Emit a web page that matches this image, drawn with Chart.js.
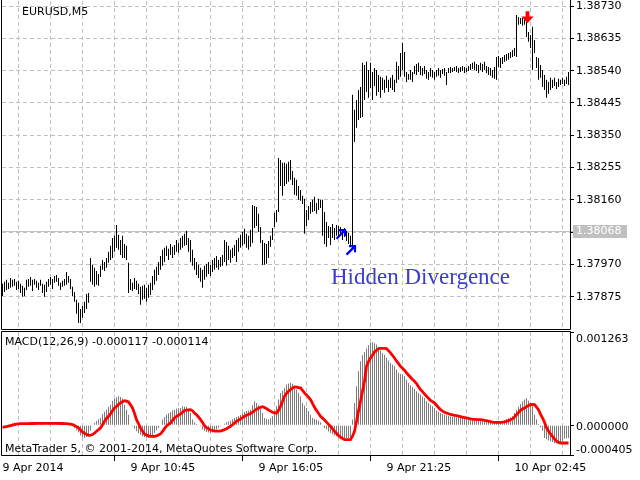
<!DOCTYPE html>
<html><head><meta charset="utf-8">
<script src="https://cdn.jsdelivr.net/npm/chart.js@4.4.1/dist/chart.umd.min.js"></script>
<style>
html,body{margin:0;padding:0;background:#fff;overflow:hidden;}
#wrap{position:relative;width:640px;height:480px;background:#fff;}
#c1{position:absolute;left:0;top:0;}
#c2{position:absolute;left:0;top:330px;}
</style></head><body>
<div id="wrap"><canvas id="c1" width="640" height="330"></canvas><canvas id="c2" width="640" height="150"></canvas></div>
<script>
// ---------- DATA ----------
const symbolTitle = 'EURUSD,M5';
const macdTitle = 'MACD(12,26,9) -0.000117 -0.000114';
const footerText = 'MetaTrader 5, \u00a9 2001-2014, MetaQuotes Software Corp.';
const currentPrice = 1.38068;

const highs = [
1.37913,1.37919,1.37925,1.37916,1.37930,1.37925,1.37927,1.37919,1.37922,1.37913,
1.37907,1.37901,1.37925,1.37927,1.37933,1.37925,1.37927,1.37922,1.37916,1.37925,
1.37913,1.37910,1.37919,1.37927,1.37933,1.37927,1.37936,1.37939,1.37930,1.37916,
1.37922,1.37927,1.37948,1.37936,1.37927,1.37904,1.37889,1.37866,1.37857,1.37839,
1.37848,1.37860,1.37883,1.37886,1.37989,1.37969,1.37960,1.37951,1.37942,1.37966,
1.37983,1.37977,1.37989,1.38007,1.38025,1.38048,1.38054,1.38086,1.38057,1.38042,
1.38054,1.38030,1.38025,1.37975,1.37927,1.37916,1.37930,1.37922,1.37913,1.37904,
1.37907,1.37910,1.37901,1.37910,1.37916,1.37936,1.37954,1.37963,1.37977,1.37995,
1.38013,1.38019,1.38025,1.38016,1.38030,1.38022,1.38027,1.38042,1.38033,1.38048,
1.38054,1.38060,1.38069,1.38048,1.38042,1.38013,1.37989,1.37977,1.37969,1.37960,
1.37954,1.37966,1.37972,1.37977,1.37969,1.37983,1.37989,1.37995,1.37983,1.37992,
1.37998,1.38042,1.38036,1.38025,1.38013,1.38019,1.38027,1.38042,1.38048,1.38057,
1.38066,1.38075,1.38060,1.38054,1.38072,1.38145,1.38142,1.38139,1.38119,1.38080,
1.38042,1.38033,1.38030,1.38039,1.38054,1.38077,1.38122,1.38130,1.38283,1.38277,
1.38269,1.38269,1.38266,1.38272,1.38277,1.38245,1.38225,1.38219,1.38201,1.38189,
1.38172,1.38163,1.38130,1.38142,1.38154,1.38160,1.38169,1.38151,1.38163,1.38160,
1.38160,1.38124,1.38095,1.38083,1.38080,1.38089,1.38077,1.38086,1.38083,1.38080,
1.38072,1.38077,1.38069,1.38063,1.38054,1.38469,1.38425,1.38454,1.38483,1.38492,
1.38563,1.38557,1.38566,1.38542,1.38563,1.38536,1.38548,1.38542,1.38527,1.38522,
1.38519,1.38513,1.38525,1.38513,1.38519,1.38527,1.38513,1.38566,1.38554,1.38592,
1.38622,1.38595,1.38536,1.38530,1.38542,1.38536,1.38554,1.38560,1.38563,1.38554,
1.38548,1.38554,1.38542,1.38536,1.38548,1.38542,1.38536,1.38542,1.38548,1.38542,
1.38545,1.38548,1.38536,1.38548,1.38551,1.38548,1.38551,1.38554,1.38548,1.38551,
1.38554,1.38551,1.38548,1.38554,1.38560,1.38563,1.38566,1.38560,1.38557,1.38563,
1.38560,1.38566,1.38554,1.38551,1.38548,1.38542,1.38551,1.38580,1.38583,1.38577,
1.38580,1.38586,1.38589,1.38592,1.38595,1.38601,1.38607,1.38704,1.38698,1.38695,
1.38695,1.38692,1.38683,1.38654,1.38645,1.38669,1.38630,1.38580,1.38577,1.38557,
1.38542,1.38527,1.38513,1.38507,1.38519,1.38513,1.38519,1.38507,1.38516,1.38513,
1.38519,1.38513,1.38522,1.38536];

const lows = [
1.37877,1.37889,1.37895,1.37898,1.37901,1.37904,1.37907,1.37895,1.37898,1.37886,
1.37875,1.37877,1.37895,1.37904,1.37907,1.37892,1.37910,1.37901,1.37895,1.37907,
1.37886,1.37875,1.37889,1.37904,1.37910,1.37898,1.37916,1.37919,1.37907,1.37895,
1.37904,1.37907,1.37910,1.37916,1.37898,1.37877,1.37860,1.37825,1.37798,1.37798,
1.37813,1.37827,1.37839,1.37857,1.37919,1.37910,1.37904,1.37910,1.37907,1.37933,
1.37954,1.37951,1.37960,1.37975,1.37983,1.37989,1.38007,1.38019,1.38013,1.37998,
1.37989,1.37989,1.37983,1.37886,1.37895,1.37892,1.37898,1.37895,1.37883,1.37851,
1.37866,1.37869,1.37860,1.37872,1.37880,1.37895,1.37910,1.37922,1.37939,1.37954,
1.37966,1.37977,1.37995,1.37983,1.37998,1.37989,1.37998,1.38007,1.38004,1.38013,
1.38019,1.38025,1.38027,1.38007,1.37977,1.37966,1.37954,1.37939,1.37930,1.37919,
1.37901,1.37925,1.37933,1.37942,1.37936,1.37948,1.37954,1.37960,1.37954,1.37963,
1.37966,1.37977,1.37966,1.37983,1.37975,1.37989,1.37995,1.37977,1.38007,1.38019,
1.38025,1.38030,1.38019,1.38013,1.38022,1.38033,1.38077,1.38083,1.38066,1.38033,
1.37969,1.37969,1.37972,1.37989,1.38022,1.38042,1.38080,1.38095,1.38124,1.38201,
1.38172,1.38201,1.38207,1.38213,1.38219,1.38204,1.38175,1.38172,1.38160,1.38157,
1.38148,1.38060,1.38083,1.38101,1.38119,1.38124,1.38127,1.38119,1.38130,1.38136,
1.38054,1.38030,1.38022,1.38048,1.38027,1.38048,1.38042,1.38054,1.38048,1.38054,
1.38042,1.38051,1.38039,1.38030,1.38027,1.38027,1.38330,1.38372,1.38395,1.38401,
1.38404,1.38454,1.38477,1.38460,1.38489,1.38454,1.38495,1.38466,1.38477,1.38460,
1.38483,1.38475,1.38489,1.38477,1.38489,1.38483,1.38477,1.38504,1.38513,1.38522,
1.38542,1.38522,1.38507,1.38513,1.38513,1.38507,1.38530,1.38527,1.38536,1.38527,
1.38525,1.38530,1.38516,1.38513,1.38522,1.38519,1.38513,1.38522,1.38525,1.38519,
1.38530,1.38525,1.38498,1.38533,1.38533,1.38536,1.38539,1.38536,1.38533,1.38536,
1.38539,1.38533,1.38536,1.38539,1.38542,1.38545,1.38542,1.38539,1.38533,1.38542,
1.38536,1.38542,1.38533,1.38527,1.38525,1.38519,1.38516,1.38513,1.38551,1.38548,
1.38560,1.38566,1.38569,1.38572,1.38577,1.38580,1.38583,1.38580,1.38675,1.38677,
1.38672,1.38675,1.38639,1.38625,1.38607,1.38542,1.38592,1.38548,1.38513,1.38519,
1.38492,1.38483,1.38460,1.38472,1.38483,1.38489,1.38495,1.38486,1.38492,1.38498,
1.38501,1.38495,1.38501,1.38498];

const macdHist = [
0.000005,-0.000005,0,0.000010,0.000015,0.000025,0.000035,0.000030,0.000025,0.000020,
0.000010,0.000005,0.000015,0.000025,0.000030,0.000025,0.000020,0.000025,0.000030,0.000025,
0.000015,0.000005,0.000010,0.000020,0.000025,0.000030,0.000025,0.000030,0.000025,0.000020,
0.000020,0.000015,0.000020,0.000015,0.000010,0,-0.000040,-0.000070,-0.000100,-0.000140,
-0.000165,-0.000174,-0.000160,-0.000130,-0.000075,-0.000016,0.000030,0.000055,0.000075,0.000097,
0.000150,0.000180,0.000210,0.000245,0.000278,0.000332,0.000355,0.000378,0.000391,0.000380,
0.000360,0.000278,0.000210,0.000142,0,-0.000016,-0.000050,-0.000084,-0.000110,-0.000130,
-0.000150,-0.000165,-0.000170,-0.000174,-0.000165,-0.000152,-0.000106,-0.000070,-0.000038,0,
0.000075,0.000110,0.000142,0.000160,0.000179,0.000197,0.000210,0.000224,0.000228,0.000233,
0.000256,0.000250,0.000250,0.000210,0.000165,0.000075,0.000040,0.000016,0.000005,-0.000016,
-0.000060,-0.000075,-0.000093,-0.000100,-0.000106,-0.000100,-0.000085,-0.000060,-0.000035,-0.000016,
0,0.000020,0.000038,0.000050,0.000061,0.000080,0.000097,0.000110,0.000125,0.000142,
0.000160,0.000179,0.000190,0.000200,0.000210,0.000270,0.000323,0.000300,0.000269,0.000215,
0.000165,0.000097,0.000085,0.000075,0.000095,0.000120,0.000188,0.000260,0.000346,0.000436,
0.000470,0.000504,0.000550,0.000565,0.000572,0.000558,0.000520,0.000482,0.000440,0.000391,
0.000301,0.000265,0.000233,0.000190,0.000142,0.000097,0.000085,0.000075,0.000060,0.000040,
-0.000016,-0.000040,-0.000060,-0.000085,-0.000106,-0.000125,-0.000142,-0.000150,-0.000160,-0.000165,
-0.000170,-0.000174,-0.000174,-0.000174,-0.000174,0.000075,0.000301,0.000527,0.000730,0.000866,
0.000948,0.000993,0.001038,0.001083,0.001115,0.001128,0.001110,0.001092,0.001056,0.001011,
0.000979,0.000956,0.000911,0.000875,0.000843,0.000820,0.000798,0.000753,0.000708,0.000694,
0.000685,0.000663,0.000617,0.000572,0.000540,0.000515,0.000495,0.000459,0.000435,0.000414,
0.000390,0.000369,0.000323,0.000300,0.000278,0.000255,0.000233,0.000197,0.000180,0.000165,
0.000150,0.000140,0.000133,0.000125,0.000118,0.000114,0.000111,0.000106,0.000102,0.000097,
0.000093,0.000090,0.000084,0.000082,0.000080,0.000078,0.000075,0.000072,0.000070,0.000066,
0.000062,0.000058,0.000052,0.000048,0.000046,0.000044,0.000043,0.000045,0.000048,0.000052,
0.000060,0.000070,0.000084,0.000095,0.000108,0.000120,0.000165,0.000210,0.000250,0.000287,
0.000320,0.000346,0.000369,0.000332,0.000300,0.000256,0.000142,0.000080,0.000016,-0.000030,
-0.000075,-0.000174,-0.000190,-0.000210,-0.000220,-0.000228,-0.000242,-0.000246,-0.000251,-0.000240,
-0.000219,-0.000183,-0.000178,-0.000174];

const macdSignal = [
-0.000030,-0.000025,-0.000020,-0.000012,-0.000007,0,0.000008,0.000014,0.000018,0.000020,
0.000020,0.000020,0.000021,0.000021,0.000022,0.000022,0.000022,0.000023,0.000023,0.000024,
0.000024,0.000024,0.000024,0.000024,0.000024,0.000024,0.000024,0.000023,0.000023,0.000022,
0.000022,0.000021,0.000020,0.000018,0.000014,0.000007,-0.000005,-0.000020,-0.000038,-0.000065,
-0.000092,-0.000110,-0.000125,-0.000138,-0.000135,-0.000128,-0.000110,-0.000083,-0.000060,-0.000038,
0.000005,0.000052,0.000090,0.000120,0.000152,0.000195,0.000233,0.000255,0.000280,0.000301,
0.000318,0.000332,0.000325,0.000314,0.000275,0.000233,0.000160,0.000075,0.000020,-0.000038,
-0.000080,-0.000120,-0.000135,-0.000145,-0.000151,-0.000152,-0.000151,-0.000145,-0.000135,-0.000120,
-0.000085,-0.000048,-0.000010,0.000010,0.000030,0.000065,0.000097,0.000120,0.000135,0.000152,
0.000175,0.000197,0.000205,0.000208,0.000210,0.000195,0.000165,0.000140,0.000110,0.000075,
0.000035,-0.000007,-0.000035,-0.000050,-0.000066,-0.000073,-0.000080,-0.000080,-0.000080,-0.000080,
-0.000072,-0.000061,-0.000048,-0.000032,-0.000016,0.000005,0.000030,0.000050,0.000068,0.000084,
0.000102,0.000120,0.000133,0.000145,0.000156,0.000175,0.000197,0.000215,0.000230,0.000242,
0.000250,0.000240,0.000224,0.000205,0.000190,0.000174,0.000168,0.000165,0.000200,0.000255,
0.000320,0.000391,0.000430,0.000460,0.000482,0.000505,0.000518,0.000515,0.000510,0.000505,
0.000470,0.000437,0.000410,0.000380,0.000346,0.000295,0.000242,0.000200,0.000160,0.000120,
0.000095,0.000070,0.000040,0.000010,-0.000016,-0.000050,-0.000084,-0.000110,-0.000140,-0.000165,
-0.000180,-0.000197,-0.000197,-0.000197,-0.000197,-0.000150,-0.000084,0.000052,0.000190,0.000323,
0.000460,0.000595,0.000798,0.000860,0.000911,0.000950,0.000993,0.001015,0.001038,0.001040,
0.001040,0.001040,0.001038,0.001010,0.000979,0.000945,0.000911,0.000870,0.000835,0.000798,
0.000770,0.000745,0.000708,0.000680,0.000650,0.000620,0.000595,0.000565,0.000520,0.000482,
0.000455,0.000420,0.000391,0.000365,0.000335,0.000318,0.000301,0.000270,0.000240,0.000210,
0.000190,0.000175,0.000165,0.000155,0.000145,0.000138,0.000133,0.000128,0.000122,0.000115,
0.000108,0.000103,0.000097,0.000092,0.000086,0.000082,0.000079,0.000077,0.000076,0.000075,
0.000070,0.000065,0.000061,0.000055,0.000048,0.000042,0.000038,0.000038,0.000038,0.000038,
0.000040,0.000045,0.000052,0.000062,0.000072,0.000084,0.000110,0.000142,0.000170,0.000200,
0.000220,0.000233,0.000250,0.000265,0.000278,0.000280,0.000278,0.000245,0.000210,0.000150,
0.000097,0.000040,-0.000038,-0.000080,-0.000120,-0.000152,-0.000185,-0.000219,-0.000235,-0.000242,
-0.000242,-0.000242,-0.000242,-0.000242];

// price axis
const priceMin = 1.37780, priceMax = 1.38745;
const priceTicks = [1.38730,1.38635,1.38540,1.38445,1.38350,1.38255,1.38160,1.38065,1.37970,1.37875];
const priceTickLabels = ['1.38730','1.38635','1.38540','1.38445','1.38350','1.38255','1.38160','','1.37970','1.37875'];
// MACD axis
const macdMin = -0.000405, macdMax = 0.001263;
const macdTicks = [0.001263, 0, -0.000405];
const macdTickLabels = ['0.001263','0.000000','-0.000405'];
// time axis
const gridBars = [16,32,48,64,80,96,112,128,144,160,176,192,208,224,240,256,272];
const timeLabelBars = [0,64,128,192,256];
const timeLabels = ['9 Apr 2014','9 Apr 10:45','9 Apr 16:05','9 Apr 21:25','10 Apr 02:45'];
// annotations
const upArrows = [{bar:169.25, price:1.38059},{bar:174.25, price:1.38012}];
const downArrows = [{bar:262.5, price:1.38697}];
const noteText = {text:'Hidden Divergence', bar:164.25, price:1.37913};

// ---------- STYLE ----------
const FONT = '"DejaVu Sans", sans-serif';
const GRID = '#c0c0c0';
const DASH = [4,3];
const nBars = highs.length;
const xMin = -0.25, xMax = nBars - 0.25;

function zeroPad(s){ s.paddingTop=0; s.paddingBottom=0; s.paddingLeft=0; s.paddingRight=0; }

function drawFrame(ctx, a, topLine){
  ctx.save();
  ctx.strokeStyle='#000'; ctx.lineWidth=1; ctx.setLineDash([]);
  ctx.beginPath();
  ctx.moveTo(a.left-0.5, topLine ? a.top-0.5 : 0);
  ctx.lineTo(a.left-0.5, a.bottom+0.5);
  ctx.lineTo(a.right+0.5, a.bottom+0.5);
  ctx.lineTo(a.right+0.5, topLine ? a.top-0.5 : 0);
  if (topLine) ctx.lineTo(a.left-0.5, a.top-0.5);
  ctx.stroke();
  ctx.restore();
}

const mainDecor = {
  id:'mainDecor',
  beforeDatasetsDraw(chart){
    const {ctx, chartArea:a, scales:{y}} = chart;
    const py = Math.round(y.getPixelForValue(currentPrice)) + 0.5;
    ctx.save(); ctx.strokeStyle=GRID; ctx.lineWidth=1;
    ctx.beginPath(); ctx.moveTo(a.left, py); ctx.lineTo(a.right+4, py); ctx.stroke();
    ctx.restore();
  },
  afterDraw(chart){
    const {ctx, chartArea:a, scales:{x,y}} = chart;
    drawFrame(ctx, a, false);
    ctx.save();
    // current price box
    const py = Math.round(y.getPixelForValue(currentPrice));
    ctx.fillStyle='#c0c0c0';
    ctx.fillRect(a.right+3, py-6, 54, 13);
    ctx.fillStyle='#ffffff'; ctx.font='11px '+FONT; ctx.textBaseline='middle'; ctx.textAlign='left';
    ctx.fillText(currentPrice.toFixed(5), a.right+6, py+0.5);
    // symbol
    ctx.fillStyle='#000'; ctx.textBaseline='alphabetic';
    ctx.fillText(symbolTitle, 22, 15);
    // up arrows (blue)
    ctx.strokeStyle='#0000ff'; ctx.lineWidth=2.2; ctx.lineJoin='miter'; ctx.lineCap='butt';
    upArrows.forEach(p=>{
      const cx=x.getPixelForValue(p.bar), cy=y.getPixelForValue(p.price);
      ctx.beginPath();
      ctx.moveTo(cx-2, cy-4); ctx.lineTo(cx+4, cy-4); ctx.lineTo(cx+4, cy+2);
      ctx.moveTo(cx-4.5, cy+4.5); ctx.lineTo(cx+3.5, cy-3.5);
      ctx.stroke();
    });
    // down arrows (red)
    ctx.fillStyle='#ff0000';
    downArrows.forEach(p=>{
      const cx=x.getPixelForValue(p.bar), cy=y.getPixelForValue(p.price);
      ctx.beginPath();
      ctx.moveTo(cx-1.9, cy-6); ctx.lineTo(cx+1.9, cy-6); ctx.lineTo(cx+1.9, cy-0.8);
      ctx.lineTo(cx+6, cy-0.8); ctx.lineTo(cx, cy+6); ctx.lineTo(cx-6, cy-0.8);
      ctx.lineTo(cx-1.9, cy-0.8); ctx.closePath(); ctx.fill();
    });
    // note text
    ctx.fillStyle='#3c3cd0'; ctx.font='23px "Liberation Serif", serif'; ctx.textBaseline='alphabetic';
    ctx.fillText(noteText.text, x.getPixelForValue(noteText.bar), y.getPixelForValue(noteText.price));
    ctx.restore();
  }
};

const macdDecor = {
  id:'macdDecor',
  afterDatasetsDraw(chart){
    const {ctx, chartArea:a} = chart;
    ctx.save();
    ctx.fillStyle='#000'; ctx.font='11px '+FONT; ctx.textAlign='left'; ctx.textBaseline='alphabetic';
    ctx.fillText(macdTitle, 5, a.top+13);
    ctx.fillText(footerText, 5, a.bottom-3.5);
    ctx.restore();
  },
  afterDraw(chart){
    const {ctx, chartArea:a, scales:{y}} = chart;
    drawFrame(ctx, a, true);
    ctx.save();
    ctx.fillStyle='#000'; ctx.font='11px '+FONT; ctx.textAlign='left'; ctx.textBaseline='alphabetic';
    const tx = a.right+6;
    ctx.fillText(macdTickLabels[0], tx, a.top+10);
    ctx.fillText(macdTickLabels[1], tx, y.getPixelForValue(macdTicks[1])+4.5);
    ctx.fillText(macdTickLabels[2], tx, a.bottom-2);
    ctx.restore();
  }
};

new Chart(document.getElementById('c1'), {
  type:'bar',
  data:{datasets:[{
    data: highs.map((h,i)=>({x:i, y:[lows[i], h]})),
    backgroundColor:'#000', borderWidth:0, barThickness:1, inflateAmount:0
  }]},
  options:{
    responsive:false, animation:false, devicePixelRatio:1, events:[],
    layout:{padding:{left:2, top:1, right:0, bottom:0}},
    plugins:{legend:{display:false}, tooltip:{enabled:false}},
    scales:{
      x:{type:'linear', min:xMin, max:xMax, offset:false,
        afterBuildTicks:s=>{ s.ticks = gridBars.map(v=>({value:v})); },
        ticks:{display:false},
        grid:{color:GRID, lineWidth:1, drawTicks:false},
        border:{display:false, dash:DASH},
        afterFit:s=>{ s.height=1; zeroPad(s); }},
      y:{position:'right', min:priceMin, max:priceMax,
        afterBuildTicks:s=>{ s.ticks = priceTicks.map(v=>({value:v})); },
        ticks:{color:'#000', padding:2, font:{family:'DejaVu Sans', size:11},
          callback:(v,i)=>priceTickLabels[i]},
        grid:{color:GRID, lineWidth:1, tickColor:'#000', tickLength:4, tickBorderDash:[]},
        border:{display:false, dash:DASH},
        afterFit:s=>{ s.width=70; zeroPad(s); }}
    }
  },
  plugins:[mainDecor]
});

new Chart(document.getElementById('c2'), {
  type:'bar',
  data:{datasets:[
    {type:'line', data: macdSignal.map((v,i)=>({x:i, y:v})), borderColor:'#ff0000', borderWidth:2.8,
     pointRadius:0, tension:0, fill:false, order:0},
    {type:'bar', data: macdHist.map((v,i)=>({x:i, y:v})), backgroundColor:'#7c7c7c', borderWidth:0,
     barThickness:1, inflateAmount:0, order:1}
  ]},
  options:{
    responsive:false, animation:false, devicePixelRatio:1, events:[],
    layout:{padding:{left:2, top:2, right:0, bottom:0}},
    plugins:{legend:{display:false}, tooltip:{enabled:false}},
    scales:{
      x:{type:'linear', min:xMin, max:xMax, offset:false,
        afterBuildTicks:s=>{ s.ticks = [0].concat(gridBars).map(v=>({value:v})); },
        ticks:{autoSkip:false, maxRotation:0, minRotation:0, align:'start', padding:1, color:'#000',
          font:{family:'DejaVu Sans', size:11},
          callback:v=>{ const k=timeLabelBars.indexOf(v); return k>=0 ? timeLabels[k] : ''; }},
        grid:{lineWidth:1, tickLength:6, tickBorderDash:[],
          color:c=> (c.tick && c.tick.value===0) ? 'rgba(0,0,0,0)' : GRID,
          tickColor:c=> (c.tick && timeLabelBars.indexOf(c.tick.value)>=0) ? '#000' : 'rgba(0,0,0,0)'},
        border:{display:false, dash:DASH},
        afterFit:s=>{ s.height=25; zeroPad(s); }},
      y:{position:'right', min:macdMin, max:macdMax,
        afterBuildTicks:s=>{ s.ticks = macdTicks.map(v=>({value:v})); },
        ticks:{display:false},
        grid:{drawOnChartArea:false, tickLength:4, tickColor:'#000', tickBorderDash:[]},
        border:{display:false},
        afterFit:s=>{ s.width=70; zeroPad(s); }}
    }
  },
  plugins:[macdDecor]
});
</script>
</body></html>
